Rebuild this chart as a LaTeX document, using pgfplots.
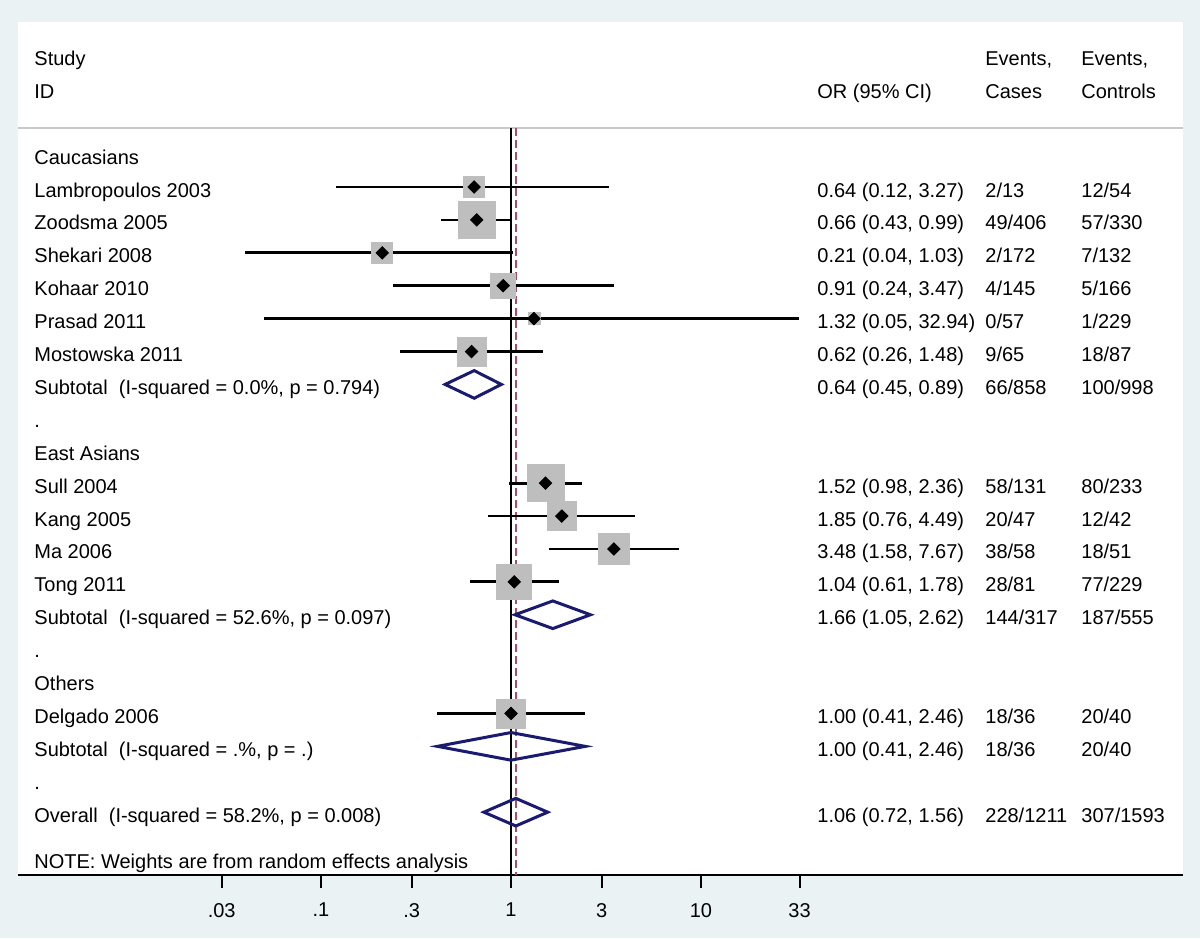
\documentclass[border=0pt]{standalone}
\usepackage{fontspec}
\setmainfont{Liberation Sans}
\usepackage{pgfplots}
\pgfplotsset{compat=1.18}

\definecolor{bgcol}{RGB}{234,242,243}
\definecolor{boxgray}{RGB}{190,190,190}
\definecolor{refred}{RGB}{165,80,105}
\definecolor{navy}{RGB}{26,26,112}
\definecolor{sepgray}{RGB}{200,200,200}

% one study row: y, OR, lower, upper, half box side (pt)
\newcommand{\study}[5]{%
  \addplot[boxgray, only marks, mark=square*, mark size=#5] coordinates {(#2,#1)};
  \addplot[black, line width=1.4pt] coordinates {(#3,#1) (#4,#1)};
  \addplot[black, only marks, mark=square*, mark size=2.2pt, mark options={rotate=45}] coordinates {(#2,#1)};
}
% pooled estimate diamond: y, OR, lower, upper
\newcommand{\pooled}[4]{%
  \addplot[navy, line width=1.5pt, line join=miter] coordinates {(#3,#1) (#2,#1-0.42) (#4,#1) (#2,#1+0.42)} -- cycle;
}
% text columns (x in data units)
\def\xa{0.003087}
\def\xb{40.78}
\def\xc{312.4}
\def\xd{1000}
\tikzset{lbl/.style={anchor=base west, inner xsep=0pt, yshift=-5pt}}
\newcommand{\row}[5]{%
  \node[lbl] at (axis cs:\xa,#1) {#2};
  \node[lbl] at (axis cs:\xb,#1) {#3};
  \node[lbl] at (axis cs:\xc,#1) {#4};
  \node[lbl] at (axis cs:\xd,#1) {#5};
}

\begin{document}
\begin{tikzpicture}
\fill[bgcol] (0,0) rectangle (600pt,469pt);
\path[use as bounding box] (0,0) rectangle (600pt,469pt);
\fill[white] (9pt,31.5pt) rectangle (591.5pt,458pt);
\begin{axis}[
    at={(9pt,31.5pt)}, anchor=south west,
    scale only axis, width=582.5pt, height=426.5pt,
    xmode=log, xmin=0.002542, xmax=3443,
    ymin=-4.015, ymax=21.91, y dir=reverse,
    axis x line=bottom, axis y line=none,
    axis line style={-, line width=1pt, black},
    xtick={0.03,0.1,0.3,1,3,10,33},
    xticklabels={.03,.1,.3,1,3,10,33},
    xminorticks=false,
    tick align=outside, major tick length=6.5pt,
    major tick style={line width=1pt, black},
    xticklabel style={yshift=-4pt},
    /pgf/number format/assume math mode=true,
    clip=false,
  ]
  % separator and reference lines
  \draw[sepgray, line width=1pt] ({rel axis cs:0,0}|-{axis cs:1,-0.79}) -- ({rel axis cs:1,0}|-{axis cs:1,-0.79});
  \addplot[black, line width=1pt] coordinates {(1,-0.79) (1,21.91)};
  \addplot[refred, line width=1pt, dash pattern=on 4pt off 2pt] coordinates {(1.06,-0.79) (1.06,21.91)};

  % Caucasians
  \study{1}{0.64}{0.12}{3.27}{5.25pt}
  \study{2}{0.66}{0.43}{0.99}{9.25pt}
  \study{3}{0.21}{0.04}{1.03}{5.25pt}
  \study{4}{0.91}{0.24}{3.47}{6.25pt}
  \study{5}{1.32}{0.05}{32.94}{3pt}
  \study{6}{0.62}{0.26}{1.48}{7.25pt}
  \pooled{7}{0.64}{0.45}{0.89}
  % East Asians
  \study{10}{1.52}{0.98}{2.36}{9.25pt}
  \study{11}{1.85}{0.76}{4.49}{7.25pt}
  \study{12}{3.48}{1.58}{7.67}{7.75pt}
  \study{13}{1.04}{0.61}{1.78}{8.75pt}
  \pooled{14}{1.66}{1.05}{2.62}
  % Others
  \study{17}{1.00}{0.41}{2.46}{7.25pt}
  \pooled{18}{1.00}{0.41}{2.46}
  % Overall
  \pooled{20}{1.06}{0.72}{1.56}

  % text
  \row{-3}{Study}{}{Events,}{Events,}
  \row{-2}{ID}{OR (95\% CI)}{Cases}{Controls}
  \row{0}{Caucasians}{}{}{}
  \row{1}{Lambropoulos 2003}{0.64 (0.12, 3.27)}{2/13}{12/54}
  \row{2}{Zoodsma 2005}{0.66 (0.43, 0.99)}{49/406}{57/330}
  \row{3}{Shekari 2008}{0.21 (0.04, 1.03)}{2/172}{7/132}
  \row{4}{Kohaar 2010}{0.91 (0.24, 3.47)}{4/145}{5/166}
  \row{5}{Prasad 2011}{1.32 (0.05, 32.94)}{0/57}{1/229}
  \row{6}{Mostowska 2011}{0.62 (0.26, 1.48)}{9/65}{18/87}
  \row{7}{Subtotal\ \ (I-squared = 0.0\%, p = 0.794)}{0.64 (0.45, 0.89)}{66/858}{100/998}
  \row{8}{.}{}{}{}
  \row{9}{East Asians}{}{}{}
  \row{10}{Sull 2004}{1.52 (0.98, 2.36)}{58/131}{80/233}
  \row{11}{Kang 2005}{1.85 (0.76, 4.49)}{20/47}{12/42}
  \row{12}{Ma 2006}{3.48 (1.58, 7.67)}{38/58}{18/51}
  \row{13}{Tong 2011}{1.04 (0.61, 1.78)}{28/81}{77/229}
  \row{14}{Subtotal\ \ (I-squared = 52.6\%, p = 0.097)}{1.66 (1.05, 2.62)}{144/317}{187/555}
  \row{15}{.}{}{}{}
  \row{16}{Others}{}{}{}
  \row{17}{Delgado 2006}{1.00 (0.41, 2.46)}{18/36}{20/40}
  \row{18}{Subtotal\ \ (I-squared = .\%, p = .)}{1.00 (0.41, 2.46)}{18/36}{20/40}
  \row{19}{.}{}{}{}
  \row{20}{Overall\ \ (I-squared = 58.2\%, p = 0.008)}{1.06 (0.72, 1.56)}{228/1211}{307/1593}
  \row{21.4}{NOTE: Weights are from random effects analysis}{}{}{}
\end{axis}
\end{tikzpicture}
\end{document}
